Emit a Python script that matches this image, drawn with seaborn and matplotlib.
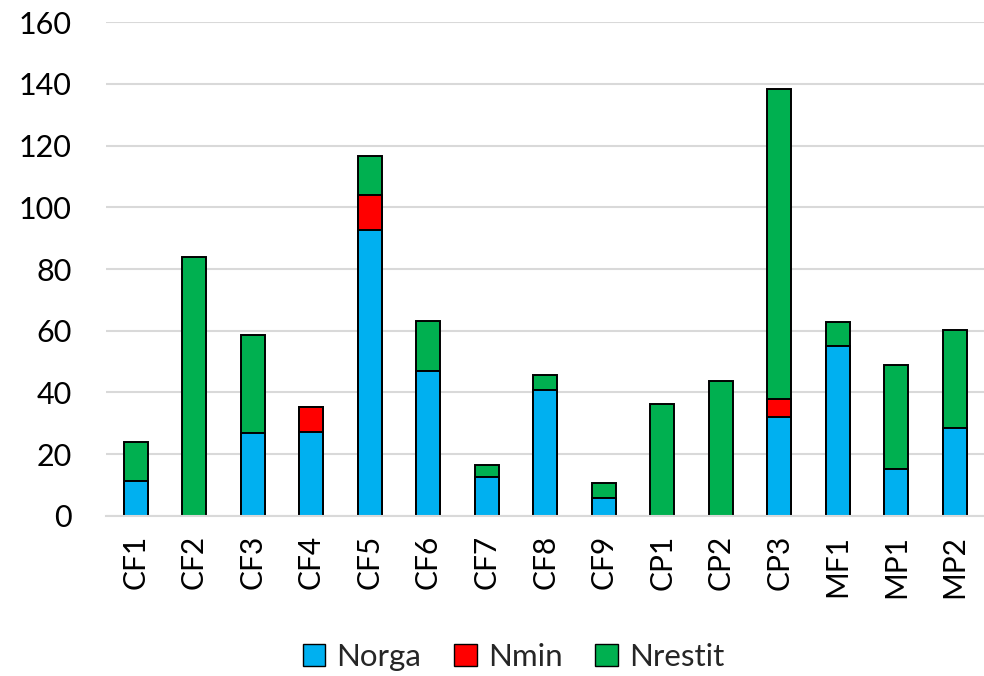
import matplotlib
matplotlib.use("Agg")
import matplotlib.pyplot as plt
import seaborn as sns
import pandas as pd
from matplotlib.patches import Patch

categories = ["CF1", "CF2", "CF3", "CF4", "CF5", "CF6", "CF7", "CF8", "CF9",
              "CP1", "CP2", "CP3", "MF1", "MP1", "MP2"]
norga = [11.3, 0, 26.7, 27.1, 92.5, 46.9, 12.7, 40.8, 5.7, 0, 0, 31.9, 55.2, 15.3, 28.4]
nmin = [0, 0, 0, 8.1, 11.5, 0, 0, 0, 0, 0, 0, 6.1, 0, 0, 0]
nrestit = [12.5, 84.0, 32.0, 0, 12.7, 16.1, 3.8, 4.7, 4.8, 36.3, 43.8, 100.4, 7.5, 33.7, 31.9]

series = ["Norga", "Nmin", "Nrestit"]
colors = {"Norga": "#00B0F0", "Nmin": "#FF0000", "Nrestit": "#00B050"}

df = pd.DataFrame({"cat": categories, "Norga": norga, "Nmin": nmin, "Nrestit": nrestit})
df["lvl1"] = df["Norga"]
df["lvl2"] = df["Norga"] + df["Nmin"]
df["lvl3"] = df["lvl2"] + df["Nrestit"]

sns.set_theme(style="white")
plt.rcParams['font.family'] = ['Lato', 'DejaVu Sans']

fig = plt.figure(figsize=(9.84, 6.76), dpi=100)
ax = fig.add_axes([0.108, 0.237, 0.892, 0.730])

for col, name in [("lvl3", "Nrestit"), ("lvl2", "Nmin"), ("lvl1", "Norga")]:
    sns.barplot(data=df, x="cat", y=col, color=colors[name], width=0.41,
                edgecolor="black", linewidth=1.4, saturation=1, ax=ax, order=categories)
for p in ax.patches:
    if p.get_height() <= 0:
        p.set_visible(False)

ax.set_ylim(0, 160)
ax.set_xlim(-0.5, 14.5)
ax.set_yticks(range(0, 161, 20))
ax.yaxis.grid(True, color="#D9D9D9", linewidth=1.5)
ax.set_axisbelow(True)
for s in ["top", "right", "left"]:
    ax.spines[s].set_visible(False)
ax.spines["bottom"].set_color("#D9D9D9")
ax.spines["bottom"].set_linewidth(1.5)
ax.set_xlabel("")
ax.set_ylabel("")
ax.tick_params(axis="y", labelsize=22, length=0, pad=25, colors="black")
ax.tick_params(axis="x", labelsize=21.5, length=0, pad=14, colors="black", rotation=90)

handles = [Patch(facecolor=colors[s], edgecolor="black", linewidth=1.0, label=s) for s in series]
fig.legend(handles=handles, loc="center", bbox_to_anchor=(0.522, 0.028), ncol=3, frameon=False,
           fontsize=22.5, handlelength=0.72, handleheight=0.72, handletextpad=0.36,
           columnspacing=1.05)

fig.savefig("out.png", dpi=100, facecolor="white")
